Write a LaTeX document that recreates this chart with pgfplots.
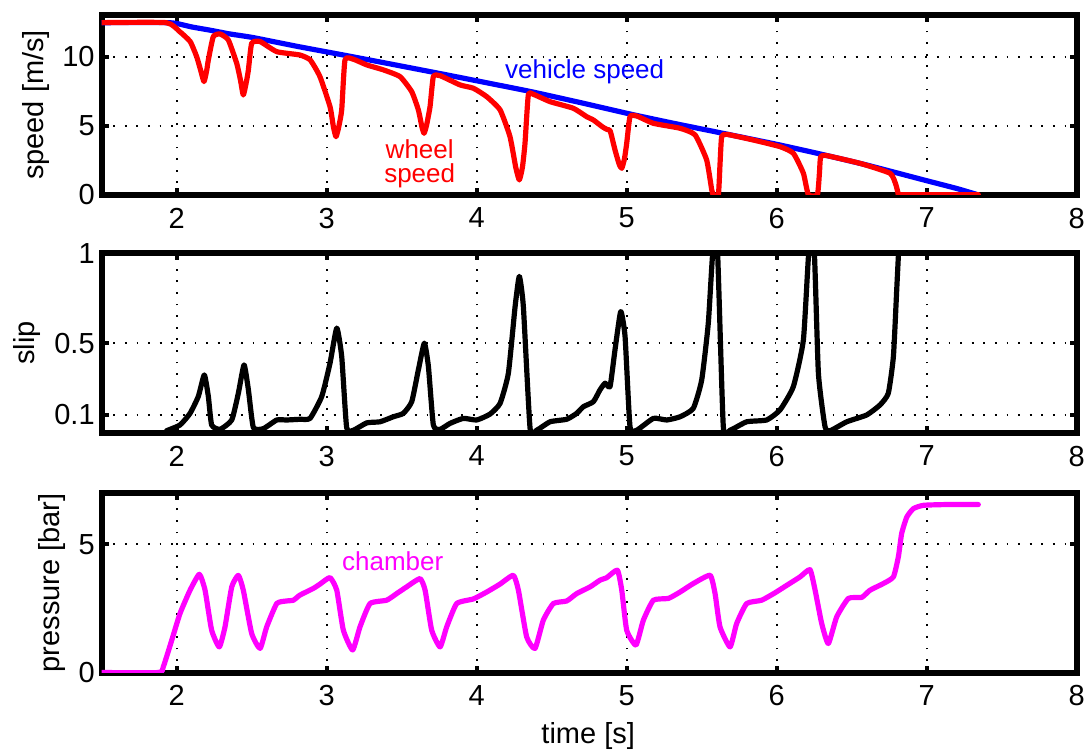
\documentclass[border=0pt]{standalone}
\usepackage{fontspec}
\setmainfont{Liberation Sans}
\usepackage{pgfplots}
\pgfplotsset{compat=1.18}
\definecolor{mred}{RGB}{255,0,0}
\definecolor{mblue}{RGB}{0,0,255}
\definecolor{mmag}{RGB}{255,0,255}
\pgfplotsset{
  myax/.style={
    scale only axis, width=487.5pt, height=89.75pt,
    xmin=1.5, xmax=8, xtick={2,3,4,5,6,7,8},
    axis line style={line width=3pt},
    tick align=inside, major tick length=3.5pt,
    tick style={line width=2pt, black},
    grid=major,
    major grid style={black, line width=0.9pt, dash pattern=on 0.9pt off 4.9pt},
    ticklabel style={font=\fontsize{14.5}{16}\selectfont},
    label style={font=\fontsize{14.5}{16}\selectfont},
    /pgf/number format/assume math mode=true,
    xticklabel style={yshift=-3pt},
    every axis plot/.append style={line width=2.6pt, line join=round, line cap=round, smooth, tension=0.3},
  }
}
\begin{document}
\begin{tikzpicture}
\useasboundingbox (-50.85pt,-39.75pt) rectangle (491.65pt,336.25pt);
% ---------- top: speed ----------
\begin{axis}[myax, at={(0pt,238.9pt)}, anchor=south west,
  ymin=0, ymax=13, ytick={0,5,10},
  ylabel={speed [m/s]},
  ylabel style={at={(axis description cs:-0.0674,0.5)}, anchor=center}]
\addplot[mblue] coordinates {(1.5,12.46) (1.93,12.46) (2.0,12.40) (2.1,12.15) (2.22,11.92) (2.35,11.65) (2.51,11.38) (2.8,10.75) (3.11,10.12) (3.4,9.52) (3.71,8.87) (4.0,8.25) (4.36,7.47) (4.7,6.65) (5.02,5.85) (5.3,5.2) (5.64,4.45) (6.0,3.65) (6.29,2.95) (6.6,2.15) (6.98,1.07) (7.2,0.45) (7.34,0)};
\addplot[mred] coordinates {(1.5,12.46) (1.93,12.46) (2.02,11.81) (2.09,11.09) (2.133,10.0) (2.16,9.0) (2.182,8.19) (2.20,9.0) (2.211,9.76) (2.244,11.45) (2.289,11.64) (2.344,11.21) (2.40,9.52) (2.425,8.3) (2.444,7.22) (2.465,8.2) (2.478,9.04) (2.5,10.97) (2.556,11.09) (2.667,10.36) (2.82,10.12) (2.89,9.76) (2.955,8.55) (3.022,6.38) (3.045,4.9) (3.062,4.20) (3.08,4.9) (3.1,6.14) (3.122,9.76) (3.178,9.81) (3.267,9.40) (3.378,9.04) (3.489,8.55) (3.567,7.46) (3.611,6.14) (3.635,4.9) (3.649,4.45) (3.665,5.0) (3.689,6.38) (3.711,8.55) (3.756,8.62) (3.889,7.95) (3.978,7.71) (4.067,7.10) (4.156,6.14) (4.222,4.20) (4.26,2.0) (4.284,1.07) (4.305,2.0) (4.322,3.72) (4.344,7.22) (4.378,7.27) (4.489,6.74) (4.644,6.26) (4.733,5.65) (4.778,5.41) (4.84,4.9) (4.87,4.72) (4.89,4.62) (4.922,3.24) (4.95,2.2) (4.967,1.91) (4.985,2.6) (5.0,3.72) (5.022,5.65) (5.067,5.70) (5.178,5.17) (5.356,4.81) (5.456,4.33) (5.533,2.51) (5.567,0.34) (5.578,0) (5.611,0) (5.622,2.2) (5.633,4.20) (5.667,4.37) (5.844,3.96) (6.022,3.48) (6.111,3.0) (6.178,1.55) (6.211,0) (6.271,0) (6.285,1.6) (6.293,2.75) (6.333,2.83) (6.556,2.27) (6.756,1.55) (6.795,0.7) (6.811,0)};
\addplot[mred, sharp plot] coordinates {(6.811,0) (7.344,0)};
\node[mblue, font=\fontsize{13}{14}\selectfont] at (axis cs:4.72,8.9) {vehicle speed};
\node[mred, font=\fontsize{13}{14}\selectfont, inner sep=0pt, anchor=base] at (axis cs:3.62,2.65) {wheel};
\node[mred, font=\fontsize{13}{14}\selectfont, inner sep=0pt, anchor=base] at (axis cs:3.62,0.85) {speed};
\end{axis}
% ---------- middle: slip ----------
\begin{axis}[myax, at={(0pt,119.8pt)}, anchor=south west,
  ymin=0, ymax=1, ytick={0.1,0.5,1}, yticklabels={0.1,0.5,1},
  ylabel={slip},
  ylabel style={at={(axis description cs:-0.0766,0.5)}, anchor=center}]
\addplot[black] coordinates {(1.5,0) (1.93,0) (1.933,0.012) (2.022,0.044) (2.089,0.109) (2.144,0.203) (2.184,0.323) (2.211,0.203) (2.233,0.044) (2.289,0.02) (2.367,0.072) (2.411,0.221) (2.449,0.379) (2.478,0.24) (2.511,0.03) (2.578,0.024) (2.667,0.072) (2.733,0.072) (2.822,0.076) (2.889,0.081) (2.967,0.203) (3.022,0.388) (3.067,0.584) (3.1,0.426) (3.133,0.03) (3.178,0.015) (3.267,0.056) (3.356,0.062) (3.444,0.09) (3.511,0.109) (3.567,0.174) (3.611,0.351) (3.651,0.5) (3.678,0.37) (3.711,0.044) (3.756,0.02) (3.822,0.053) (3.911,0.081) (4.0,0.072) (4.089,0.105) (4.156,0.165) (4.211,0.332) (4.256,0.704) (4.284,0.872) (4.311,0.704) (4.356,0.024) (4.4,0.015) (4.489,0.062) (4.6,0.076) (4.667,0.109) (4.711,0.146) (4.778,0.174) (4.822,0.24) (4.856,0.277) (4.889,0.258) (4.922,0.463) (4.96,0.676) (4.989,0.537) (5.022,0.035) (5.067,0.015) (5.178,0.081) (5.267,0.072) (5.356,0.09) (5.444,0.137) (5.5,0.295) (5.544,0.612) (5.575,1.02) (5.605,1.02) (5.644,0.035) (5.689,0.015) (5.8,0.062) (5.933,0.072) (6.022,0.128) (6.111,0.258) (6.178,0.519) (6.215,1.02) (6.25,1.02) (6.278,0.332) (6.322,0.035) (6.356,0.012) (6.467,0.062) (6.6,0.1) (6.689,0.156) (6.744,0.221) (6.778,0.426) (6.8,0.797) (6.812,1.0) (6.818,1.08)};
\end{axis}
% ---------- bottom: pressure ----------
\begin{axis}[myax, at={(0pt,0pt)}, anchor=south west,
  ymin=0, ymax=7, ytick={0,5},
  ylabel={pressure [bar]},
  ylabel style={at={(axis description cs:-0.051,0.5)}, anchor=center},
  xlabel={time [s]},
  xlabel style={at={(axis description cs:0.499,0)}, anchor=center, yshift=-31.75pt}]
\addplot[mmag] coordinates {(1.5,0) (1.878,0) (1.911,0.23) (1.967,1.26) (2.022,2.30) (2.089,3.21) (2.151,3.83) (2.189,3.21) (2.233,1.65) (2.284,1.0) (2.322,1.78) (2.367,3.34) (2.411,3.79) (2.444,3.21) (2.5,1.52) (2.556,0.94) (2.6,1.78) (2.667,2.69) (2.733,2.79) (2.778,2.82) (2.822,3.02) (2.911,3.28) (2.956,3.45) (3.022,3.70) (3.067,3.21) (3.111,1.65) (3.173,0.88) (3.222,1.78) (3.289,2.69) (3.4,2.82) (3.467,3.08) (3.533,3.34) (3.622,3.66) (3.656,3.21) (3.7,1.65) (3.756,1.0) (3.8,1.78) (3.867,2.69) (3.978,2.87) (4.067,3.14) (4.156,3.45) (4.244,3.79) (4.278,3.21) (4.333,1.39) (4.389,0.94) (4.444,2.04) (4.511,2.69) (4.6,2.79) (4.667,3.08) (4.756,3.34) (4.822,3.6) (4.867,3.70) (4.938,3.99) (4.967,3.21) (5.0,1.65) (5.062,1.07) (5.111,2.04) (5.178,2.82) (5.278,2.89) (5.356,3.14) (5.444,3.47) (5.556,3.79) (5.589,3.08) (5.622,1.78) (5.689,1.0) (5.733,1.91) (5.8,2.69) (5.9,2.82) (5.989,3.11) (6.067,3.40) (6.156,3.73) (6.222,4.01) (6.256,3.21) (6.3,1.91) (6.344,1.13) (6.4,2.17) (6.478,2.89) (6.567,2.93) (6.622,3.21) (6.711,3.47) (6.778,3.73) (6.811,4.51) (6.833,5.42) (6.867,6.06) (6.911,6.39) (6.978,6.52) (7.133,6.55) (7.344,6.55)};
\node[mmag, font=\fontsize{13}{14}\selectfont] at (axis cs:3.44,4.34) {chamber};
\end{axis}
\end{tikzpicture}
\end{document}
